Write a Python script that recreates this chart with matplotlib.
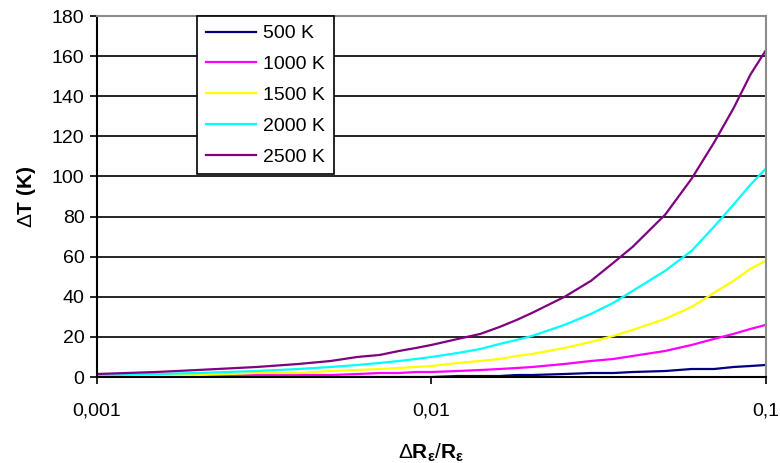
import matplotlib
matplotlib.use("Agg")
import matplotlib.pyplot as plt
from matplotlib.ticker import FixedLocator, NullLocator

plt.rcParams['font.family'] = ['Liberation Sans', 'DejaVu Sans']
plt.rcParams['mathtext.fontset'] = 'custom'
plt.rcParams['mathtext.rm'] = 'Liberation Sans'
plt.rcParams['mathtext.bf'] = 'Liberation Sans:bold'
plt.rcParams['mathtext.it'] = 'Liberation Sans:italic'

# relative resistance change
ratio = [0.001, 0.0015, 0.002, 0.003, 0.004, 0.005, 0.006, 0.007, 0.008, 0.009,
         0.01, 0.012, 0.014, 0.016, 0.018, 0.02, 0.025, 0.03, 0.035, 0.04,
         0.05, 0.06, 0.07, 0.08, 0.09, 0.1]

# temperature error (K) per temperature
dt_500 = [0, 0, 0, 0, 0, 0, 0, 0, 0, 0,
          0, 0.5, 0.5, 0.5, 1, 1, 1.5, 2, 2, 2.5,
          3, 4, 4, 5, 5.5, 6]
dt_1000 = [0, 0.5, 0.5, 1, 1, 1, 1.5, 2, 2, 2.5,
           2.5, 3, 3.5, 4, 4.5, 5, 6.5, 8, 9, 10.5,
           13, 16, 19, 21.5, 24, 26]
dt_1500 = [0.5, 1, 1, 2, 2, 3, 3.5, 4, 4.5, 5,
           5.5, 7, 8, 9, 10.5, 11.5, 14.5, 17.5, 20.5, 23.5,
           29, 35, 42, 48, 54, 58]
dt_2000 = [1, 1.5, 2, 3, 4, 5, 6, 7, 8, 9,
           10, 12, 14, 16.5, 18.5, 20.5, 26, 31.5, 37, 43,
           53, 63, 75, 86, 96, 104]
dt_2500 = [1.5, 2.5, 3.5, 5, 6.5, 8, 10, 11, 13, 14.5,
           16, 19, 21.5, 25, 28.5, 32, 40, 48, 57, 65,
           81, 99, 117, 134, 151, 163]

labels = ["500 K", "1000 K", "1500 K", "2000 K", "2500 K"]
colors = ["#000080", "#FF00FF", "#FFFF00", "#00FFFF", "#800080"]
series = [dt_500, dt_1000, dt_1500, dt_2000, dt_2500]

y_ticks = [0, 20, 40, 60, 80, 100, 120, 140, 160, 180]
x_ticks = [0.001, 0.01, 0.1]
x_tick_labels = ["0,001", "0,01", "0,1"]

fig = plt.figure(figsize=(7.8, 4.63), dpi=100)
ax = fig.add_axes([0.1244, 0.1857, 0.8576, 0.7797])

for vals, lab, col in zip(series, labels, colors):
    ax.plot(ratio, vals, color=col, lw=1.6, label=lab)

ax.set_xscale('log')
ax.set_xlim(0.001, 0.1)
ax.set_ylim(0, 180)
ax.xaxis.set_major_locator(FixedLocator(x_ticks))
ax.xaxis.set_minor_locator(NullLocator())
ax.set_xticklabels(x_tick_labels)
ax.set_yticks(y_ticks)
ax.yaxis.grid(True, color='black', lw=1.2)
ax.set_axisbelow(True)

ax.tick_params(axis='both', direction='out', length=5, width=1.2, labelsize=14,
               color='black')
ax.tick_params(axis='y', pad=4)
ax.tick_params(axis='x', pad=13)

for side in ['left', 'bottom']:
    ax.spines[side].set_color('black')
    ax.spines[side].set_linewidth(1.5)
for side in ['top', 'right']:
    ax.spines[side].set_color('#8c8c8c')
    ax.spines[side].set_linewidth(1.5)

ax.set_ylabel(r"$\Delta$T (K)", fontsize=15, fontweight='bold')
ax.yaxis.set_label_coords(-0.088, 0.5)
ax.set_xlabel(r"$\Delta\mathbf{R}_{\mathbf{ε}}/\mathbf{R}_{\mathbf{ε}}$",
              fontsize=15, fontweight='bold')
ax.xaxis.set_label_coords(0.5, -0.18)

leg = ax.legend(loc='upper left', bbox_to_anchor=(0.1495, 1.0), fontsize=14,
                frameon=True, fancybox=False, edgecolor='black', framealpha=1,
                handlelength=2.6, labelspacing=0.68, borderpad=0.45,
                handletextpad=0.35, borderaxespad=0)
leg.get_frame().set_linewidth(1.2)

fig.savefig("out.png", dpi=100)
